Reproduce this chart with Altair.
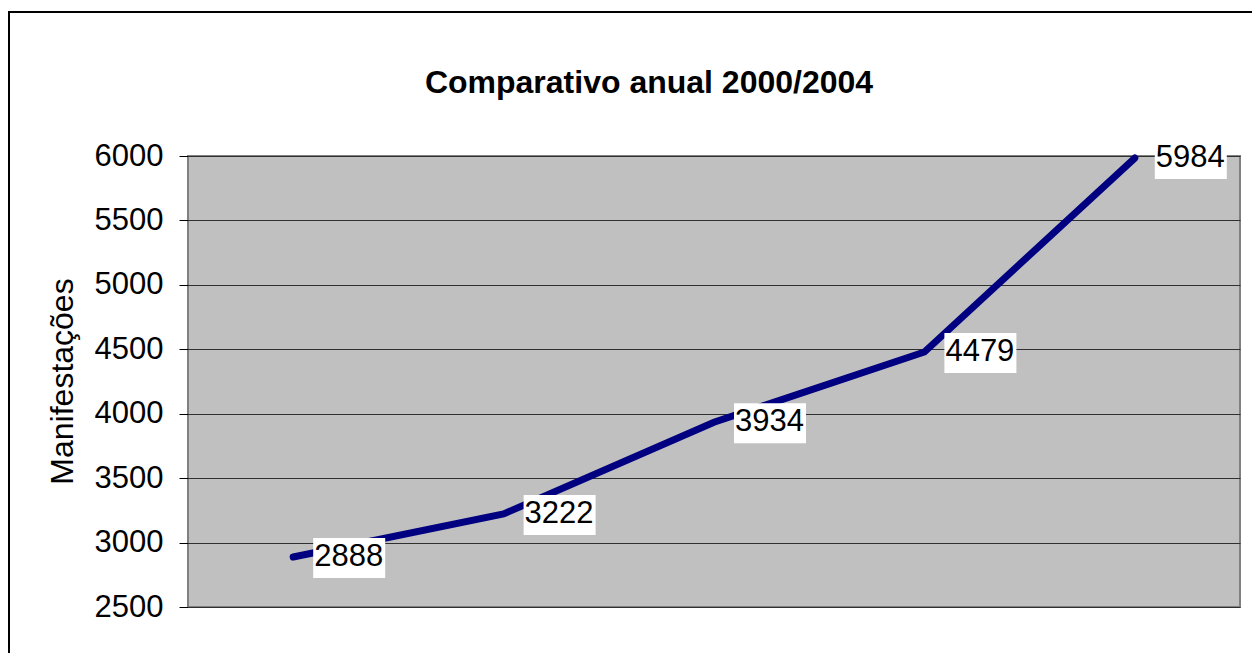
import altair as alt
import pandas as pd

# Data
titulo = "Comparativo anual 2000/2004"
anos = ["2000", "2001", "2002", "2003", "2004"]
manifestacoes = [2888, 3222, 3934, 4479, 5984]
y_ticks = [2500, 3000, 3500, 4000, 4500, 5000, 5500, 6000]

df = pd.DataFrame({"ano": anos, "valor": manifestacoes})

FONT = "Liberation Sans"

x_enc = alt.X("ano:O", scale=alt.Scale(type="point", padding=0.5), axis=None)
y_enc = alt.Y(
    "valor:Q",
    scale=alt.Scale(domain=[2500, 6000], nice=False, zero=False),
    axis=alt.Axis(
        title="Manifestações",
        values=y_ticks,
        format="d",
        labelFont=FONT,
        labelFontSize=31,
        labelColor="black",
        labelPadding=16,
        tickSize=9,
        tickColor="black",
        domain=False,
        grid=True,
        gridColor="#303030",
        gridWidth=1,
        titleFont=FONT,
        titleFontSize=32,
        titleFontWeight="normal",
        titleColor="black",
        titleAngle=270,
        titleX=-126,
        titleY=225,
        titleAlign="center",
        titleBaseline="middle",
    ),
)

base = alt.Chart(df)

line = base.mark_line(color="#000080", strokeWidth=7, strokeCap="round").encode(x=x_enc, y=y_enc)

boxes = base.mark_point(
    shape="M1,-0.95L4.6,-0.95L4.6,1.05L1,1.05Z",
    size=1600,
    filled=True,
    fill="white",
    opacity=1,
    strokeWidth=0,
).encode(x=x_enc, y=y_enc)

labels = base.mark_text(
    align="left",
    baseline="alphabetic",
    dx=21,
    dy=9,
    font=FONT,
    fontSize=31,
    color="black",
).encode(x=x_enc, y=y_enc, text=alt.Text("valor:Q", format="d"))

frame = alt.Chart(alt.Data(values=[{}])).mark_rect(
    fill="white", fillOpacity=0, stroke="black", strokeWidth=2
).encode(
    x=alt.value(-179), x2=alt.value(1300), y=alt.value(-144), y2=alt.value(800)
)

title_mark = alt.Chart(alt.Data(values=[{"t": titulo}])).mark_text(
    align="center",
    baseline="alphabetic",
    font=FONT,
    fontSize=32,
    fontWeight="bold",
    color="black",
).encode(x=alt.value(461), y=alt.value(-63), text="t:N")

chart = (
    alt.layer(frame, line, boxes, labels, title_mark)
    .properties(
        width=1052,
        height=451,
        padding={"left": 180, "top": 148, "right": 12, "bottom": 46},
        autosize=alt.AutoSizeParams(type="none"),
        background="white",
    )
    .configure_view(fill="#C0C0C0", stroke="#808080", strokeWidth=2)
)

chart.save("out.html", embed_options={"renderer": "svg", "actions": False})
